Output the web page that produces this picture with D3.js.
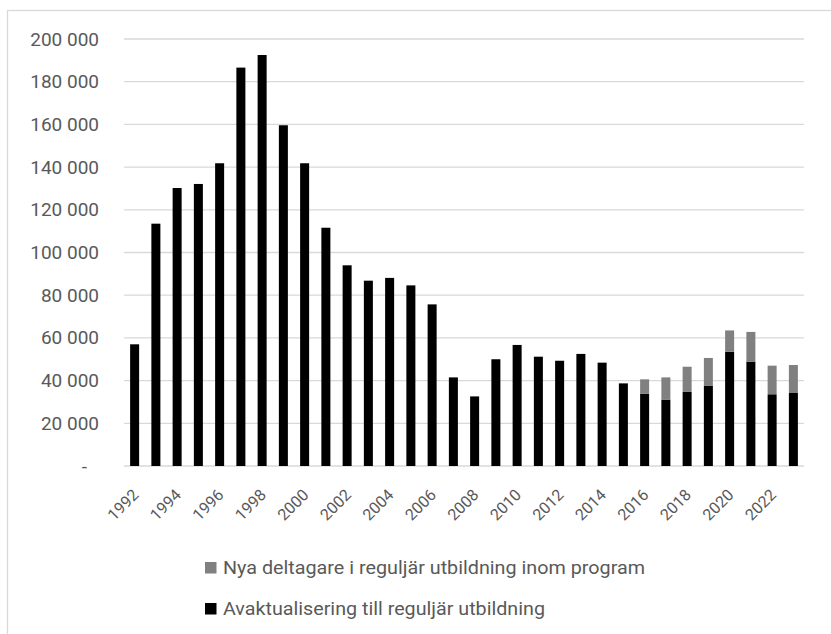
<!DOCTYPE html>
<html>
<head>
<meta charset="utf-8">
<script src="https://cdn.jsdelivr.net/npm/d3@7"></script>
<style>
html,body{margin:0;padding:0;background:#fff;}
svg{display:block;font-family:Roboto,"Noto Sans",sans-serif;}
</style>
</head>
<body>
<svg id="chart" width="831" height="634"></svg>
<script>
const years = [1992,1993,1994,1995,1996,1997,1998,1999,2000,2001,2002,2003,2004,2005,2006,2007,2008,2009,2010,2011,2012,2013,2014,2015,2016,2017,2018,2019,2020,2021,2022,2023];
const avaktualisering = [57000,113500,130200,132100,141800,186600,192500,159600,141800,111600,94000,86800,88100,84600,75700,41500,32600,50000,56700,51200,49300,52500,48400,38700,33900,31100,34700,37500,53500,48900,33600,34200];
const nyaDeltagare = [0,0,0,0,0,0,0,0,0,0,0,0,0,0,0,0,0,0,0,0,0,0,0,0,6700,10400,11800,13100,10000,13900,13400,13100];
const yTicks = [0,20000,40000,60000,80000,100000,120000,140000,160000,180000,200000];
const seriesNames = ["Nya deltagare i reguljär utbildning inom program","Avaktualisering till reguljär utbildning"];
const seriesColors = ["#808080","#000000"];

const svg = d3.select("#chart");
svg.append("rect").attr("x",7.5).attr("y",10.5).attr("width",830).attr("height",640)
  .attr("fill","none").attr("stroke","#d9d9d9").attr("stroke-width",1.3);

const x = d3.scaleBand().domain(years).range([124,804]).paddingInner(0.576).paddingOuter(0.288);
const y = d3.scaleLinear().domain([0,200000]).range([466,39]);

const fmt = v => v === 0 ? "-" : d3.format(",")(v).replace(/,/g," ");

// gridlines
svg.append("g").selectAll("line").data(yTicks).join("line")
  .attr("x1",124).attr("x2",804)
  .attr("y1",d=>y(d)).attr("y2",d=>y(d))
  .attr("stroke","#d9d9d9").attr("stroke-width",1.3);

// y axis labels
const yAxis = d3.axisLeft(y).tickValues(yTicks).tickFormat(fmt).tickSize(0).tickPadding(0);
const gy = svg.append("g").attr("transform","translate(99,0)").call(yAxis);
gy.select(".domain").remove();
gy.selectAll("text").attr("font-size","19px").attr("fill","#595959").attr("font-family","Roboto");
gy.selectAll(".tick").filter(d=>d===0).select("text").attr("dx",-12);

// bars
const data = years.map((yr,i)=>({year:yr, a:avaktualisering[i], n:nyaDeltagare[i]}));
svg.append("g").selectAll("rect").data(data).join("rect")
  .attr("x",d=>x(d.year)).attr("width",x.bandwidth())
  .attr("y",d=>y(d.a)).attr("height",d=>y(0)-y(d.a))
  .attr("fill",seriesColors[1]);
svg.append("g").selectAll("rect").data(data.filter(d=>d.n>0)).join("rect")
  .attr("x",d=>x(d.year)).attr("width",x.bandwidth())
  .attr("y",d=>y(d.a+d.n)).attr("height",d=>y(d.a)-y(d.a+d.n))
  .attr("fill",seriesColors[0]);

// x labels
svg.append("g").selectAll("text").data(years.filter((d,i)=>i%2===0)).join("text")
  .attr("transform",d=>`translate(${x(d)+x.bandwidth()/2+5},496) rotate(-45)`)
  .attr("text-anchor","end").attr("font-size","16px").attr("fill","#595959")
  .text(d=>d);

// legend
const lg = svg.append("g");
const legendWidths = [422, 322];
seriesNames.forEach((name,i)=>{
  const yy = 574 + i*41;
  lg.append("rect").attr("x",205).attr("y",yy-12).attr("width",11.5).attr("height",11.5).attr("fill",seriesColors[i]);
  lg.append("text").attr("x",223).attr("y",yy).attr("font-size","18px").attr("fill","#595959")
    .attr("textLength",legendWidths[i]).attr("lengthAdjust","spacingAndGlyphs").text(name);
});
</script>
</body>
</html>
